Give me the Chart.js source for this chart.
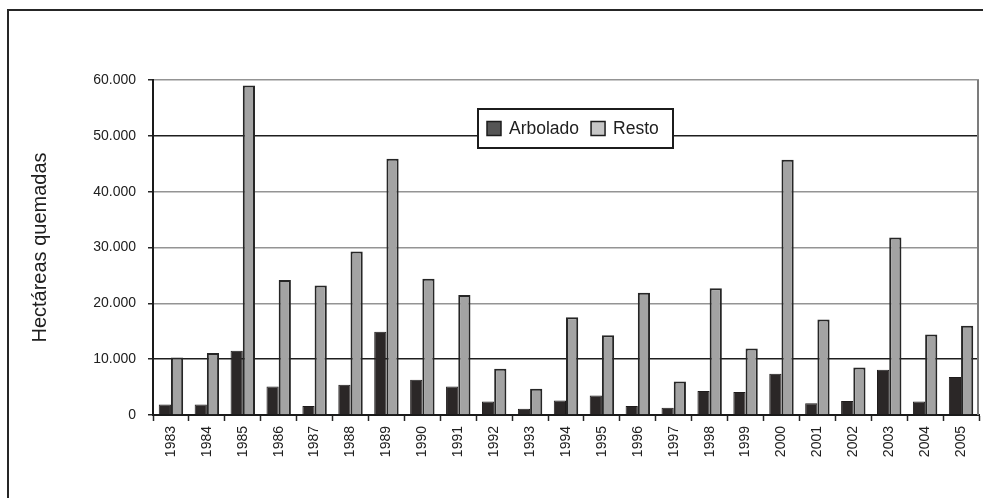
<!DOCTYPE html>
<html>
<head>
<meta charset="utf-8">
<script src="https://cdn.jsdelivr.net/npm/chart.js@4.4.1/dist/chart.umd.min.js"></script>
<style>
  html, body { margin: 0; padding: 0; background: #fff; }
  #wrap { position: relative; width: 983px; height: 498px; }
</style>
</head>
<body>
<div id="wrap"><canvas id="c" width="983" height="498"></canvas></div>
<script>
// Hectáreas quemadas por año
const years = ['1983', '1984', '1985', '1986', '1987', '1988', '1989', '1990', '1991', '1992', '1993', '1994',
               '1995', '1996', '1997', '1998', '1999', '2000', '2001', '2002', '2003', '2004', '2005'];
const arbolado = [1900, 1900, 11500, 5100, 1600, 5400, 14900, 6300, 5100, 2400, 1100, 2600,
                  3500, 1600, 1300, 4300, 4100, 7400, 2100, 2500, 8100, 2400, 6800];
const resto = [10300, 11100, 59000, 24200, 23200, 29300, 45900, 24400, 21500, 8300, 4700, 17500,
               14300, 21900, 6000, 22700, 11900, 45700, 17100, 8500, 31800, 14400, 16000];
const seriesNames = ['Arbolado', 'Resto'];
const yTitle = 'Hectáreas quemadas';
const yMin = 0, yMax = 60000, yStep = 10000;

const FONT = '"Liberation Sans", Arial, sans-serif';
const INK = '#202020';
const legendSwatches = ['#555555', '#c6c6c6'];

function miles(v) {
  return String(v).replace(/\B(?=(\d{3})+(?!\d))/g, '.');
}

// Outer frame, right edge of the plot and the boxed legend
const decor = {
  id: 'decor',
  beforeDraw(chart) {
    const ctx = chart.ctx;
    ctx.save();
    ctx.fillStyle = '#fff';
    ctx.fillRect(0, 0, chart.width, chart.height);
    ctx.strokeStyle = '#262626';
    ctx.lineWidth = 2;
    ctx.beginPath();
    ctx.moveTo(8, chart.height);
    ctx.lineTo(8, 10);
    ctx.lineTo(chart.width, 10);
    ctx.stroke();
    ctx.restore();
  },
  afterDatasetsDraw(chart) {
    const ctx = chart.ctx;
    const a = chart.chartArea;
    ctx.save();
    ctx.strokeStyle = '#7c7c7c';
    ctx.lineWidth = 2;
    ctx.beginPath();
    ctx.moveTo(a.right - 1, a.top);
    ctx.lineTo(a.right - 1, a.bottom);
    ctx.stroke();

    // legend box
    const bx = a.left + 325, by = a.top + 29, bw = 195, bh = 39;
    ctx.fillStyle = '#fff';
    ctx.fillRect(bx, by, bw, bh);
    ctx.strokeStyle = '#1c1c1c';
    ctx.lineWidth = 2;
    ctx.strokeRect(bx, by, bw, bh);

    ctx.font = '17.5px ' + FONT;
    ctx.textBaseline = 'middle';
    ctx.textAlign = 'left';
    const cy = by + bh / 2;
    let x = bx + 9;
    chart.data.datasets.forEach((ds, i) => {
      ctx.fillStyle = legendSwatches[i];
      ctx.fillRect(x, cy - 7, 14, 14);
      ctx.strokeStyle = '#1c1c1c';
      ctx.lineWidth = 1.5;
      ctx.strokeRect(x, cy - 7, 14, 14);
      ctx.fillStyle = INK;
      ctx.fillText(ds.label, x + 22, cy + 1);
      x += 22 + ctx.measureText(ds.label).width + 12;
    });
    ctx.restore();
  }
};

new Chart(document.getElementById('c'), {
  type: 'bar',
  data: {
    labels: years,
    datasets: [
      {
        label: seriesNames[0],
        data: arbolado,
        backgroundColor: '#2b2727',
        borderColor: '#1f1c1c',
        borderWidth: 1
      },
      {
        label: seriesNames[1],
        data: resto,
        backgroundColor: '#a3a3a3',
        borderColor: '#262626',
        borderWidth: 2
      }
    ]
  },
  options: {
    responsive: false,
    animation: false,
    devicePixelRatio: 1,
    layout: { padding: { left: 24, top: 80, right: 4, bottom: 0 } },
    datasets: { bar: { categoryPercentage: 0.68, barPercentage: 1.0 } },
    plugins: {
      legend: { display: false },
      tooltip: { enabled: false },
      title: { display: false }
    },
    scales: {
      x: {
        afterFit(scale) { scale.height = 83; },
        grid: {
          display: true,
          drawOnChartArea: false,
          drawTicks: true,
          tickLength: 6,
          tickColor: '#262626',
          tickWidth: 1.5,
          offset: true
        },
        border: { display: true, color: '#1a1a1a', width: 2 },
        ticks: {
          autoSkip: false,
          minRotation: 90,
          maxRotation: 90,
          padding: 5,
          color: INK,
          font: { family: FONT, size: 14 }
        }
      },
      y: {
        min: yMin,
        max: yMax,
        afterFit(scale) { scale.width = 129; },
        grid: {
          color(ctx) {
            const v = ctx.tick ? ctx.tick.value : null;
            return (v === 10000 || v === 50000) ? '#1e1e1e' : '#949494';
          },
          lineWidth: 1.5,
          drawTicks: true,
          tickLength: 5,
          tickColor: '#262626',
          tickWidth: 1.5
        },
        border: { display: true, color: '#1a1a1a', width: 2 },
        ticks: {
          stepSize: yStep,
          padding: 12,
          color: INK,
          font: { family: FONT, size: 14 },
          callback: (v) => miles(v)
        },
        title: {
          display: true,
          text: yTitle,
          color: INK,
          font: { family: FONT, size: 20 },
          padding: { top: 4, bottom: 4 }
        }
      }
    }
  },
  plugins: [decor]
});
</script>
</body>
</html>
